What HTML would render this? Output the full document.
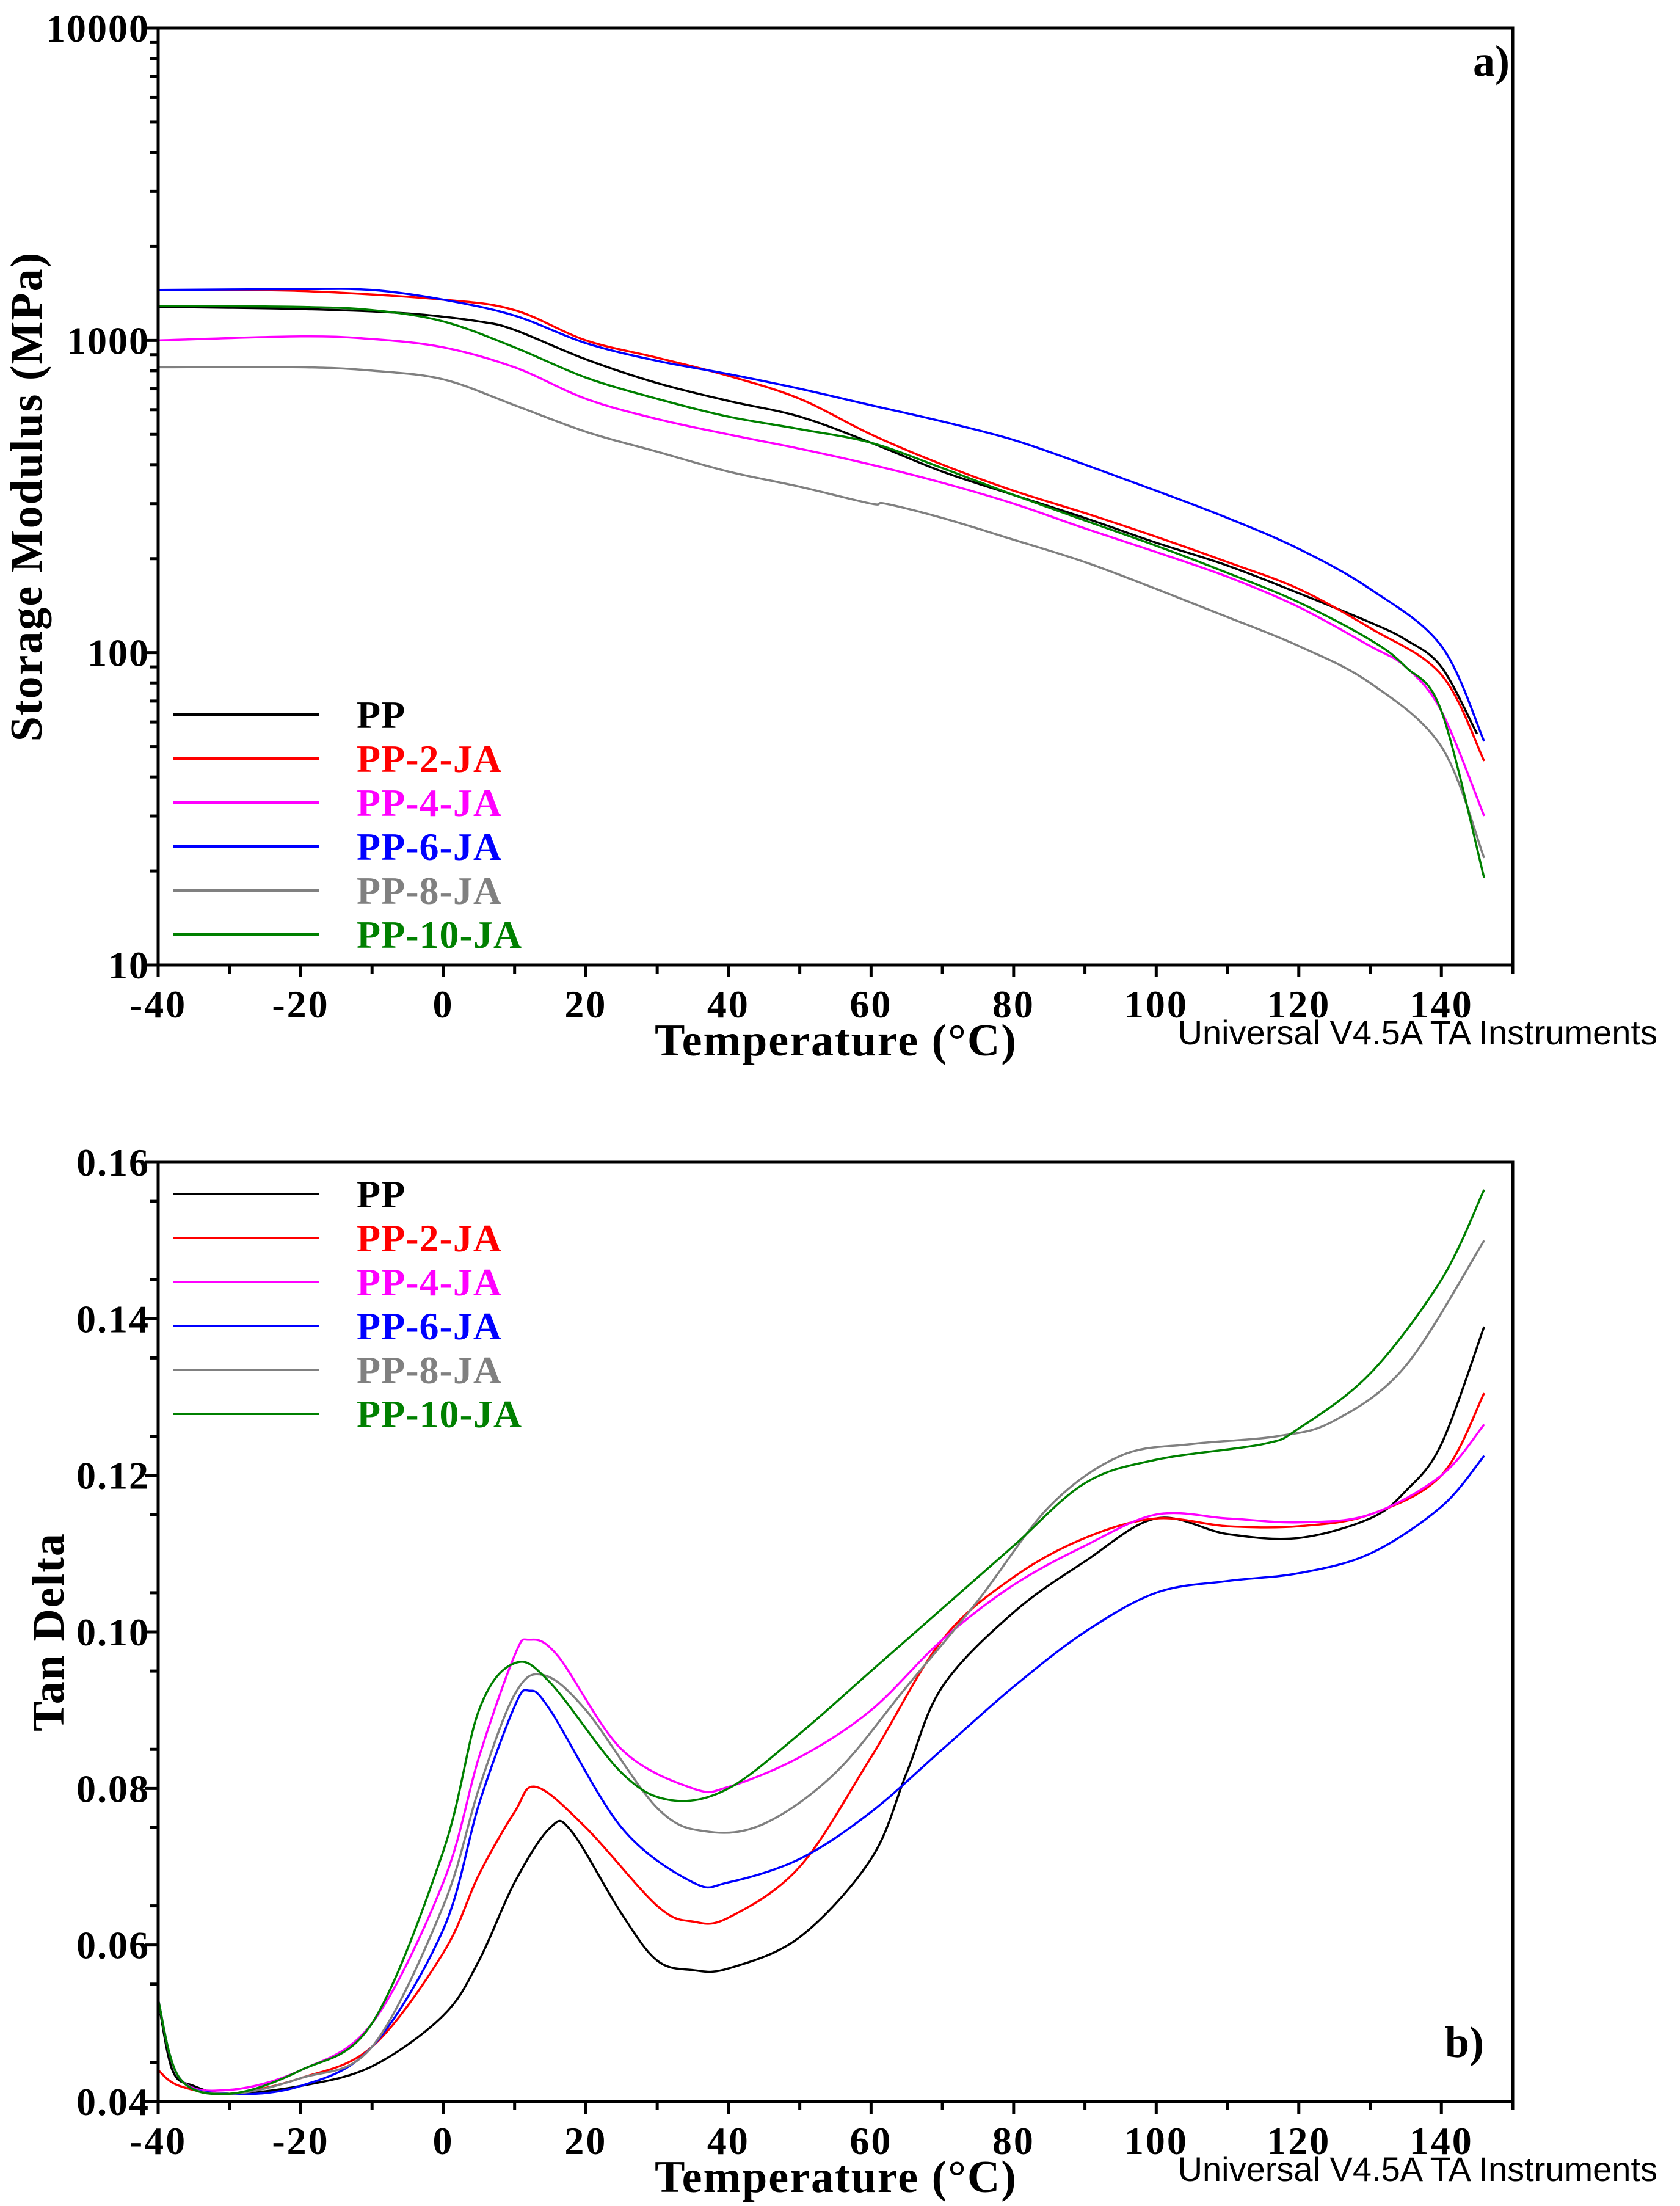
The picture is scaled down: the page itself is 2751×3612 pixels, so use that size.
<!DOCTYPE html>
<html><head><meta charset="utf-8"><style>
html,body{margin:0;padding:0;background:#fff;}
svg{display:block;}
.serif{font-family:"Liberation Serif",serif;}
.sans{font-family:"Liberation Sans",sans-serif;}
</style></head><body>
<svg id="chart" width="2751" height="3612" viewBox="0 0 2751 3612" xmlns="http://www.w3.org/2000/svg"></svg>
<script>
// ---- data ----
const seriesNames = ["PP","PP-2-JA","PP-4-JA","PP-6-JA","PP-8-JA","PP-10-JA"];
const seriesColors = ["#000000","#ff0000","#ff00ff","#0000ff","#808080","#008000"];
const xTicks = [-40,-20,0,20,40,60,80,100,120,140];
const yTicksA = [10,100,1000,10000];
const yTicksB = [0.04,0.06,0.08,0.10,0.12,0.14,0.16];
const yTickLabelsB = ["0.04","0.06","0.08","0.10","0.12","0.14","0.16"];

// Storage modulus (MPa)
const tA0 = [-40,-20,-5,5,10,20,30,40,50,60,70,80,90,100,110,120,130,135,140,145];
const eA0 = [1280,1260,1220,1150,1080,870,730,640,570,470,380,320,270,225,190,155,125,110,90,55];
const tA1 = [-40,-20,0,10,20,30,40,50,60,70,80,90,100,110,120,130,140,146];
const eA1 = [1450,1440,1350,1250,1000,880,770,650,500,400,330,280,235,195,160,120,85,45];
const tA2 = [-40,-20,-10,0,10,20,30,40,50,60,70,80,90,100,110,120,130,135,140,146];
const eA2 = [1000,1030,1010,950,820,650,560,500,450,400,350,300,250,210,175,140,105,90,65,30];
const tA3 = [-40,-20,-10,0,10,20,30,40,50,60,70,80,90,100,110,120,130,140,146];
const eA3 = [1450,1460,1450,1350,1200,980,860,780,700,620,550,480,400,330,270,215,160,105,52];
const tA4 = [-40,-20,-10,0,10,20,30,40,50,60,62,70,80,90,100,110,120,130,140,146];
const eA4 = [820,820,800,750,620,510,440,380,340,300,300,270,230,195,160,130,105,80,50,22];
const tA5 = [-40,-20,-10,0,10,20,30,40,50,60,70,80,90,100,110,120,130,135,140,146];
const eA5 = [1290,1280,1250,1150,950,760,650,570,520,470,390,320,265,220,180,145,110,90,65,19];

// Tan delta
const tB0 = [-40,-38,-35,-30,-20,-10,0,5,10,15,18,25,30,35,40,50,60,65,70,80,90,100,110,120,130,135,140,146];
const dB0 = [0.053,0.044,0.042,0.041,0.042,0.0445,0.051,0.058,0.068,0.075,0.0745,0.064,0.058,0.0568,0.057,0.061,0.071,0.082,0.093,0.1025,0.109,0.1145,0.1125,0.112,0.1145,0.118,0.124,0.139];
const tB1 = [-40,-37,-30,-20,-10,0,5,10,13,20,30,35,40,50,60,70,80,90,100,110,120,130,140,146];
const dB1 = [0.044,0.042,0.041,0.043,0.047,0.059,0.069,0.077,0.0802,0.075,0.065,0.063,0.0635,0.07,0.084,0.099,0.107,0.112,0.1145,0.1135,0.1135,0.115,0.12,0.1305];
const tB2 = [-40,-37,-30,-20,-10,0,5,10,12,16,25,35,40,50,60,70,80,90,100,110,120,130,140,146];
const dB2 = [0.053,0.043,0.0415,0.044,0.05,0.068,0.084,0.097,0.099,0.097,0.085,0.08,0.0802,0.084,0.09,0.099,0.106,0.111,0.115,0.1145,0.114,0.115,0.12,0.1265];
const tB3 = [-40,-37,-30,-20,-10,0,5,10,12,15,25,35,40,50,60,70,80,90,100,110,120,130,140,146];
const dB3 = [0.053,0.043,0.041,0.042,0.047,0.062,0.078,0.0905,0.0925,0.09,0.075,0.068,0.068,0.071,0.077,0.085,0.093,0.1,0.105,0.1065,0.1075,0.11,0.116,0.1225];
const tB4 = [-40,-37,-30,-20,-10,0,5,10,14,20,30,37,45,55,65,75,85,95,105,117,125,135,146];
const dB4 = [0.053,0.043,0.041,0.043,0.047,0.065,0.08,0.092,0.0945,0.09,0.0775,0.0745,0.0755,0.082,0.093,0.104,0.116,0.1225,0.124,0.125,0.127,0.134,0.15];
const tB5 = [-40,-37,-30,-20,-10,0,5,10,15,25,32,40,50,60,70,80,90,100,115,120,130,140,146];
const dB5 = [0.053,0.043,0.041,0.044,0.05,0.072,0.09,0.096,0.0935,0.082,0.0785,0.08,0.087,0.095,0.103,0.111,0.119,0.122,0.124,0.126,0.133,0.145,0.1565];

const tA = [tA0,tA1,tA2,tA3,tA4,tA5], eA = [eA0,eA1,eA2,eA3,eA4,eA5];
const tB = [tB0,tB1,tB2,tB3,tB4,tB5], dB = [dB0,dB1,dB2,dB3,dB4,dB5];

// ---- layout ----
const NS = "http://www.w3.org/2000/svg";
const svg = document.getElementById("chart");
const L = 259, R = 2477;
const xs = t => L + (t + 40) / 190 * (R - L);
const A = {top:46, bot:1580};
const B = {top:1903, bot:3441};
const yA = v => A.bot - (Math.log10(v) - 1) / 3 * (A.bot - A.top);
const yB = v => B.bot - (v - 0.04) / 0.12 * (B.bot - B.top);

function el(tag, attrs, parent) {
  const e = document.createElementNS(NS, tag);
  for (const k in attrs) e.setAttribute(k, attrs[k]);
  (parent || svg).appendChild(e);
  return e;
}
function txt(s, attrs, parent) { const e = el("text", attrs, parent); e.textContent = s; return e; }

function smoothPath(pts) {
  let d = "M" + pts[0][0].toFixed(1) + "," + pts[0][1].toFixed(1);
  for (let i = 0; i < pts.length - 1; i++) {
    const p0 = pts[Math.max(0, i - 1)], p1 = pts[i], p2 = pts[i + 1], p3 = pts[Math.min(pts.length - 1, i + 2)];
    const c1x = p1[0] + (p2[0] - p0[0]) / 6, c1y = p1[1] + (p2[1] - p0[1]) / 6;
    const c2x = p2[0] - (p3[0] - p1[0]) / 6, c2y = p2[1] - (p3[1] - p1[1]) / 6;
    d += "C" + c1x.toFixed(1) + "," + c1y.toFixed(1) + " " + c2x.toFixed(1) + "," + c2y.toFixed(1) + " " + p2[0].toFixed(1) + "," + p2[1].toFixed(1);
  }
  return d;
}

function drawPanel(P, name, yFn, yTicks, yLabels, minorVals, ts, vs, ytitle, ytitleX, panelLabel, plx, ply, legendTop) {
  const g = el("g", {});
  
  
  for (let s = 0; s < 6; s++) {
    const pts = ts[s].map((t, i) => [xs(t), yFn(vs[s][i])]);
    const p = el("path", {d: smoothPath(pts), fill: "none", stroke: seriesColors[s], "stroke-width": 3.5, "stroke-linejoin": "round"}, g);
    
    
  }
  const fr = el("rect", {x: L, y: P.top, width: R - L, height: P.bot - P.top, fill: "none", stroke: "#000", "stroke-width": 5}, g);
  
  
  for (let t = -40; t <= 150; t += 10) {
    const major = (t % 20 === 0) && t <= 140;
    el("line", {x1: xs(t), x2: xs(t), y1: P.bot, y2: P.bot + (major ? 20 : 14), stroke: "#000", "stroke-width": 5}, g);
  }
  xTicks.forEach(t => {
    const tl = txt(String(t), {x: xs(t), y: P.bot + 86, "font-size": 64, "font-weight": "bold", "text-anchor": "middle", "letter-spacing": 3, class: "serif"}, g);
    
    
  });
  minorVals.forEach(v => el("line", {x1: L - 14, x2: L, y1: yFn(v), y2: yFn(v), stroke: "#000", "stroke-width": 5}, g));
  yTicks.forEach((v, i) => {
    el("line", {x1: L - 22, x2: L, y1: yFn(v), y2: yFn(v), stroke: "#000", "stroke-width": 5}, g);
    const yl = txt(yLabels[i], {x: L - 14, y: yFn(v) + 22, "font-size": 64, "font-weight": "bold", "text-anchor": "end", "letter-spacing": 2, class: "serif"}, g);
    
    
  });
  const xt = txt("Temperature (°C)", {x: 1369, y: P.bot + 148, "font-size": 74, "font-weight": "bold", "text-anchor": "middle", "letter-spacing": 2, class: "serif"}, g);
  
  
  const yc = (P.top + P.bot) / 2;
  const yt = txt(ytitle, {x: ytitleX, y: yc, "font-size": 74, "font-weight": "bold", "text-anchor": "middle", "letter-spacing": 2, class: "serif", transform: "rotate(-90 " + ytitleX + " " + yc + ")"}, g);
  
  
  const ui = txt("Universal V4.5A TA Instruments", {x: 2714, y: P.bot + 130, "font-size": 56, "text-anchor": "end", class: "sans"}, g);
  
  
  const pl = txt(panelLabel, {x: plx, y: ply, "font-size": 72, "font-weight": "bold", "text-anchor": "end", class: "serif"}, g);
  
  
  const lg = el("g", {}, g);
  
  
  for (let s = 0; s < 6; s++) {
    const yy = legendTop + s * 72;
    const le = el("g", {}, lg);
    
    
    el("line", {x1: 284, x2: 523, y1: yy, y2: yy, stroke: seriesColors[s], "stroke-width": 4}, le);
    txt(seriesNames[s], {x: 584, y: yy + 22, "font-size": 64, "font-weight": "bold", fill: seriesColors[s], "letter-spacing": 1, class: "serif"}, le);
  }
}

const minorA = [];
[10, 100, 1000].forEach(d => { for (let k = 2; k <= 9; k++) minorA.push(d * k); });
const minorB = [];
for (let v = 0.045; v < 0.16; v += 0.01) minorB.push(v);

drawPanel(A, "storage-modulus-chart", yA, yTicksA, ["10","100","1000","10000"], minorA, tA, eA,
  "Storage Modulus (MPa)", 68, "a)", 2472, 124, 1170);
drawPanel(B, "tan-delta-chart", yB, yTicksB, yTickLabelsB, minorB, tB, dB,
  "Tan Delta", 104, "b)", 2430, 3368, 1955);
</script>
</body></html>
